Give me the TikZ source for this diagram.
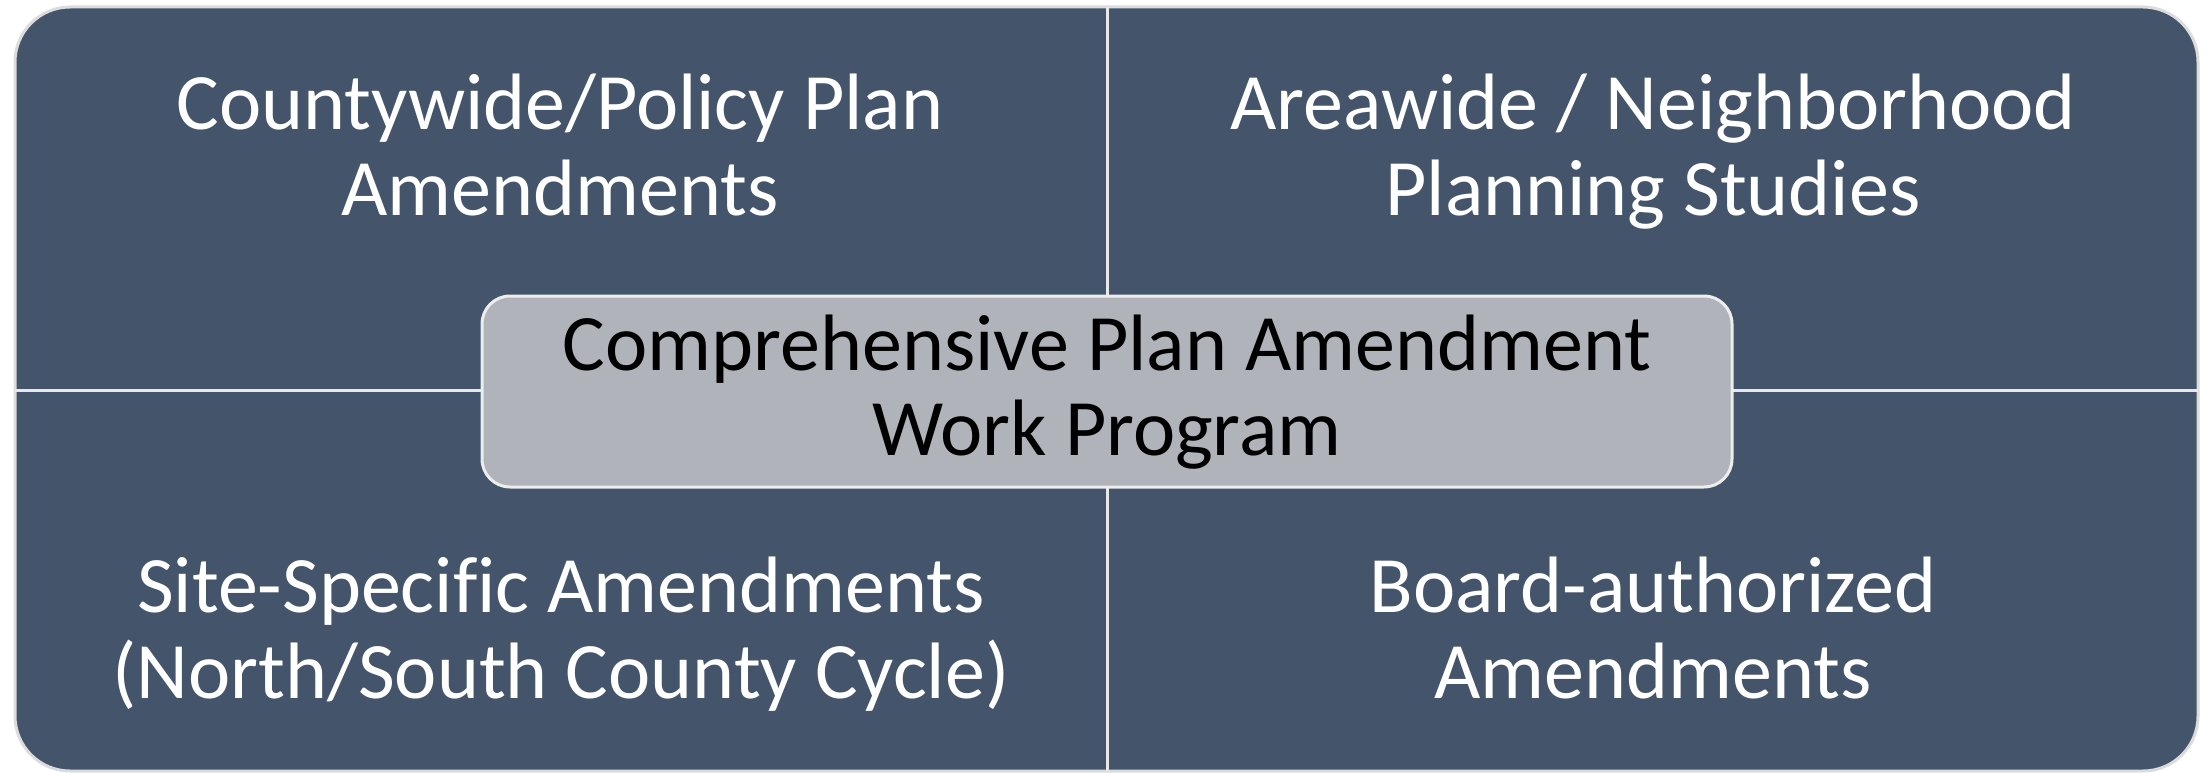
\documentclass[tikz,border=0pt]{standalone}
\usepackage{fontspec}
\setmainfont{Carlito}[Ligatures=NoCommon]
\definecolor{slate}{HTML}{44546A}
\definecolor{hubgray}{HTML}{B0B3BA}
\definecolor{rimgray}{HTML}{DCDCDC}
\definecolor{divgray}{HTML}{E8E8E8}
\begin{document}
\begin{tikzpicture}[x=1pt,y=-1pt,
  panel/.style={draw=rimgray, line width=3pt, fill=slate, rounded corners=55pt},
  divider/.style={draw=divgray, line width=3pt},
  hubbox/.style={draw=white!93!black, line width=3pt, fill=hubgray, rounded corners=28pt,
    minimum width=1250pt, minimum height=191pt, inner sep=0pt},
  lbl/.style={anchor=base, inner sep=0pt, text=white, font=\fontsize{80}{86}\selectfont},
  hublbl/.style={anchor=base, inner sep=0pt, text=black, font=\fontsize{80}{85}\selectfont}
]
\useasboundingbox (0,0) rectangle (2206,773);
\draw[panel] (15,7) rectangle (2198,771);
\coordinate (vtop) at (1107,7);
\coordinate (vbot) at (1107,771);
\coordinate (hleft) at (15,390);
\coordinate (hright) at (2198,390);
\draw[divider] (vtop) -- (vbot);
\draw[divider] (hleft) -- (hright);
\node[hubbox] (hub) at (1107,391.5) {};
\node[lbl] (tl) at (560,130) {\begin{tabular}[t]{@{}c@{}}Countywide/Policy Plan\\Amendments\end{tabular}};
\node[lbl] (tr) at (1653,130) {\begin{tabular}[t]{@{}c@{}}Areawide / Neighborhood\\Planning Studies\end{tabular}};
\node[lbl] (bl) at (561,612) {\begin{tabular}[t]{@{}c@{}}Site-Specific Amendments\\(North/South County Cycle)\end{tabular}};
\node[lbl] (br) at (1653,612) {\begin{tabular}[t]{@{}c@{}}Board-authorized\\Amendments\end{tabular}};
\node[hublbl] (hubtext) at (1107,370) {\begin{tabular}[t]{@{}c@{}}Comprehensive Plan Amendment\\Work Program\end{tabular}};
\end{tikzpicture}
\end{document}
